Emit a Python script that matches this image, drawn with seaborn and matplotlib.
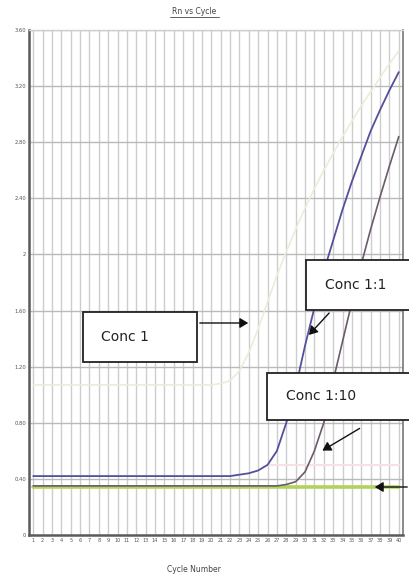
import numpy as np
import pandas as pd
import matplotlib
matplotlib.use("Agg")
import matplotlib.pyplot as plt
from matplotlib.patches import Rectangle
from matplotlib.lines import Line2D
import seaborn as sns

# === Datos ===
cycles = list(range(1, 41))

conc_1 = [1.07] * 20 + [1.08, 1.10, 1.17, 1.30, 1.47, 1.66, 1.85, 2.02, 2.18, 2.33,
                         2.47, 2.60, 2.72, 2.84, 2.95, 3.06, 3.16, 3.26, 3.36, 3.45]
conc_1_1 = [0.42] * 22 + [0.43, 0.44, 0.46, 0.50, 0.60, 0.80, 1.05, 1.35, 1.62, 1.88,
                          2.10, 2.32, 2.52, 2.70, 2.88, 3.03, 3.17, 3.30]
conc_1_10 = [0.35] * 27 + [0.36, 0.38, 0.45, 0.60, 0.80, 1.10, 1.38, 1.66, 1.93,
                           2.18, 2.41, 2.63, 2.84]
ntc = [0.34] * 40

threshold_cycles = [26, 40]
threshold = [0.50, 0.50]

y_ticks = [0, 0.4, 0.8, 1.2, 1.6, 2.0, 2.4, 2.8, 3.2, 3.6]
y_labels = ["0", "0.40", "0.80", "1.20", "1.60", "2", "2.40", "2.80", "3.20", "3.60"]

df = pd.DataFrame({"Cycle": cycles, "Conc 1": conc_1, "Conc 1:1": conc_1_1,
                   "Conc 1:10": conc_1_10, "NTC": ntc})

# === Figura ===
sns.set_style("white")
fig = plt.figure(figsize=(4.09, 5.82), dpi=100)
W, H = 409, 582
ax = fig.add_axes([29 / W, 1 - 535 / H, (403 - 29) / W, (535 - 30) / H])

sns.lineplot(data=df, x="Cycle", y="Conc 1", color="#e9edd9", lw=1.2, ax=ax)
sns.lineplot(x=threshold_cycles, y=threshold, color="#f6e2e6", lw=1.5, ax=ax)
sns.lineplot(data=df, x="Cycle", y="NTC", color="#b2d35a", lw=2.6, ax=ax)
sns.lineplot(data=df, x="Cycle", y="Conc 1:1", color="#52509c", lw=1.3, ax=ax)
sns.lineplot(data=df, x="Cycle", y="Conc 1:10", color="#6b5a6b", lw=1.2, ax=ax)

ax.set_xlim(0.55, 40.45)
ax.set_ylim(0, 3.6)
ax.set_xticks(cycles)
ax.set_xticklabels([str(c) for c in cycles], fontsize=3.6, color="#555555")
ax.set_yticks(y_ticks)
ax.set_yticklabels(y_labels, fontsize=3.8, color="#555555")
ax.tick_params(axis="both", length=0, pad=2)
ax.set_xlabel("")
ax.set_ylabel("")

# Rejilla
for c in cycles:
    ax.axvline(c, color="#cdcdcd", lw=1.0, zorder=0)
for t in y_ticks[1:]:
    ax.axhline(t, color="#bababa", lw=1.0, zorder=0)

for side in ["left", "bottom"]:
    ax.spines[side].set_color("#5a5a5a")
    ax.spines[side].set_linewidth(1.8)
ax.spines["right"].set_color("#777777")
ax.spines["right"].set_linewidth(1.2)
ax.spines["top"].set_color("#d0d0d0")
ax.spines["top"].set_linewidth(1.0)

# Título subrayado y etiqueta del eje
fig.text(194 / W, 1 - 12 / H, "Rn vs Cycle", ha="center", va="center",
         fontsize=5.5, color="#444444")
fig.add_artist(Line2D([170 / W, 219 / W], [1 - 17 / H, 1 - 17 / H],
                      color="#444444", lw=0.6))
fig.text(194 / W, 1 - 570 / H, "Cycle Number", ha="center", va="center",
         fontsize=5.5, color="#444444")

# === Cajas de anotación ===
def caja(x0, y0, x1, y1, texto, tx):
    fig.add_artist(Rectangle((x0 / W, 1 - y1 / H), (x1 - x0) / W, (y1 - y0) / H,
                             facecolor="white", edgecolor="#222222", lw=1.3,
                             transform=fig.transFigure, zorder=5))
    fig.text(tx / W, 1 - (y0 + y1) / 2 / H, texto, ha="left", va="center",
             fontsize=10, color="#222222", zorder=6)

def flecha(x0, y0, x1, y1):
    fig.add_artist(matplotlib.patches.FancyArrowPatch(
        (x0 / W, 1 - y0 / H), (x1 / W, 1 - y1 / H), transform=fig.transFigure,
        arrowstyle="-|>,head_length=5,head_width=3", color="#111111",
        lw=1.0, zorder=6))

caja(83, 312, 197, 362, "Conc 1", 101)
caja(306, 260, 420, 310, "Conc 1:1", 325)
caja(267, 373, 420, 420, "Conc 1:10", 286)

flecha(197, 323, 251, 323)
flecha(331, 311, 307, 337)
flecha(362, 427, 320, 452)
flecha(410, 487, 372, 487)

plt.savefig("out.png", dpi=100)
plt.close()
